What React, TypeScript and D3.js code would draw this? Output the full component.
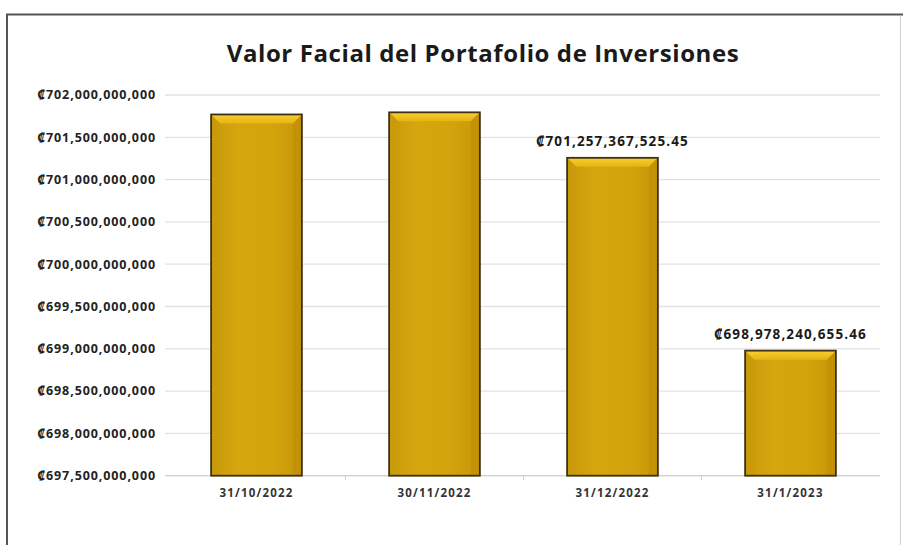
import React from "react";
import * as d3 from "d3";

const categories = ["31/10/2022", "30/11/2022", "31/12/2022", "31/1/2023"];
const values = [701770000000, 701795000000, 701257367525.45, 698978240655.46];
const labelTexts = ["", "", "₡701,257,367,525.45", "₡698,978,240,655.46"];
const yTicks = [697.5e9, 698e9, 698.5e9, 699e9, 699.5e9, 700e9, 700.5e9, 701e9, 701.5e9, 702e9];
const title = "Valor Facial del Portafolio de Inversiones";

const W = 903;
const H = 545;
const font = "'Open Sans', 'Noto Sans', sans-serif";

export default function App() {
  const x = d3.scaleBand<string>().domain(categories).range([167.5, 879.5]).paddingInner(0.49).paddingOuter(0.245);
  const y = d3.scaleLinear().domain([697.5e9, 702e9]).range([475.7, 95]);
  const fmt = (v: number) => "₡" + d3.format(",.0f")(v);
  const bw = x.bandwidth();
  const bev = 9;

  return (
    <svg width={W} height={H} style={{ position: "absolute", left: 0, top: 0, background: "#fff" }}>
      <defs>
        <linearGradient id="face" x1="0" x2="1" y1="0" y2="0">
          <stop offset="0" stopColor="#C99A0A" />
          <stop offset="0.3" stopColor="#D5A60E" />
          <stop offset="0.7" stopColor="#D3A30C" />
          <stop offset="1" stopColor="#C69508" />
        </linearGradient>
        <linearGradient id="topbev" x1="0" x2="0" y1="0" y2="1">
          <stop offset="0" stopColor="#F8CF2E" />
          <stop offset="1" stopColor="#E4B414" />
        </linearGradient>
      </defs>
      <rect x={0} y={0} width={W} height={H} fill="#fff" />
      <line x1={6} x2={903} y1={14.5} y2={14.5} stroke="#555" strokeWidth={2} />
      <line x1={7} x2={7} y1={14} y2={H} stroke="#555" strokeWidth={2} />
      <line x1={900.5} x2={900.5} y1={16} y2={H} stroke="#d0d0d0" strokeWidth={1} />

      <text x={483} y={62} textAnchor="middle" fontFamily={font} fontWeight="bold" fontSize={24} letterSpacing={0.6} fill="#1a1a1a">
        {title}
      </text>

      {yTicks.map((t) => (
        <g key={t}>
          <line x1={165} x2={880} y1={y(t)} y2={y(t)} stroke="#e2e2e2" strokeWidth={1.3} />
          <text x={156} y={y(t)} dy="0.35em" textAnchor="end" fontFamily={font} fontWeight="bold" fontSize={12.5} fill="#222" letterSpacing={0.9}>
            {fmt(t)}
          </text>
        </g>
      ))}
      <line x1={165} x2={880} y1={y(697.5e9)} y2={y(697.5e9)} stroke="#d0d0d0" strokeWidth={1.3} />

      {categories.map((c, i) => {
        const x0 = x(c)!;
        const y0 = y(values[i]);
        const y1 = y(697.5e9);
        const x1 = x0 + bw;
        return (
          <g key={c}>
            <rect x={x0} y={y0} width={bw} height={y1 - y0} fill="url(#face)" />
            <polygon points={`${x0},${y0} ${x1},${y0} ${x1 - bev},${y0 + bev} ${x0 + bev},${y0 + bev}`} fill="url(#topbev)" />
            <polygon points={`${x0},${y0} ${x0 + bev},${y0 + bev} ${x0 + bev},${y1} ${x0},${y1}`} fill="#C89A0C" opacity={0.6} />
            <polygon points={`${x1},${y0} ${x1 - bev},${y0 + bev} ${x1 - bev},${y1} ${x1},${y1}`} fill="#BE8E06" opacity={0.6} />
            <rect x={x0} y={y0} width={bw} height={y1 - y0} fill="none" stroke="#3d3215" strokeWidth={1.8} />
            {labelTexts[i] && (
              <text x={x0 + bw / 2} y={y0 - 12} textAnchor="middle" fontFamily={font} fontWeight="bold" fontSize={13.5} fill="#1a1a1a" letterSpacing={1.1}>
                {labelTexts[i]}
              </text>
            )}
            <text x={x0 + bw / 2} y={497} textAnchor="middle" fontFamily={font} fontWeight="bold" fontSize={11.5} fill="#333" letterSpacing={1.2}>
              {c}
            </text>
          </g>
        );
      })}
      {d3.range(1, categories.length).map((k) => {
        const xb = 167.5 + k * x.step();
        return <line key={k} x1={xb} x2={xb} y1={475.7} y2={480} stroke="#d0d0d0" />;
      })}
    </svg>
  );
}
